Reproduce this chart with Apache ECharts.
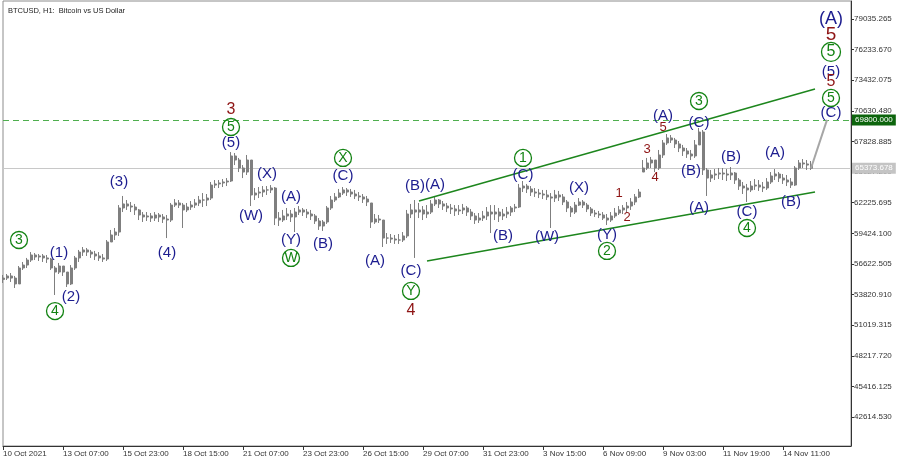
<!DOCTYPE html>
<html><head><meta charset="utf-8">
<script src="https://cdn.jsdelivr.net/npm/echarts@6/dist/echarts.min.js"></script>
<style>html,body{margin:0;padding:0;background:#fff}#c{width:900px;height:461px}</style>
</head><body><div id="c"></div>
<script>
// ---------- data ----------
const titleText = 'BTCUSD, H1:  Bitcoin vs US Dollar';
const tickLabels = ['10 Oct 2021','13 Oct 07:00','15 Oct 23:00','18 Oct 15:00','21 Oct 07:00','23 Oct 23:00','26 Oct 15:00','29 Oct 07:00','31 Oct 23:00','3 Nov 15:00','6 Nov 09:00','9 Nov 03:00','11 Nov 19:00','14 Nov 11:00'];
const yTickValues = [79035.265,76233.670,73432.075,70630.480,67828.885,65027.290,62225.695,59424.100,56622.505,53820.910,51019.315,48217.720,45416.125,42614.530];
const barsPerTick = 15;
const totalSlots = 213;
const firstOpen = 55200;
const closes = [
55330,55520,55330,54790,56250,56520,56980,57440,57260,57350,
57170,57070,56250,55880,56430,55880,54790,56250,57170,57710,
57900,57710,57530,57350,57170,57070,58630,59270,59540,61740,
62110,61920,61830,61560,61100,60920,61010,60820,61100,60920,
60730,60640,62010,62200,62010,61560,61830,62010,62200,62470,
62470,62650,63840,63940,64030,64120,64210,66500,66130,65400,
65030,66130,62930,63110,63200,63390,63390,63570,60820,60640,
61010,61190,60920,61370,61560,61370,61190,61010,60550,60090,
60460,61740,62470,62750,63110,63390,63200,63020,62840,62750,
62560,62290,60460,60730,60640,58990,58990,58900,58810,58810,
59180,61190,61560,61370,61560,61190,61370,62110,62470,62110,
61920,61740,61650,61470,61560,61740,61370,61010,60640,60820,
61010,61370,61190,61370,61010,61190,61370,61740,61830,63570,
63750,63480,63200,63110,63020,62930,62750,62650,62930,62750,
62290,61740,61370,62010,62290,62010,61650,61280,61190,61100,
60820,60640,61010,61280,61560,61740,61920,62290,62750,63200,
65400,65860,66130,65400,66590,67690,68150,67960,67600,67230,
66960,66680,66500,67510,68690,65220,64480,64760,64850,64940,
64850,64760,64940,64300,63750,63570,63390,63750,63840,63660,
63570,64120,64670,64850,64480,64300,64120,63840,65400,65860,
65770,65670,65374];
const highs = [
55610,55700,55790,55520,56430,56800,57170,57710,57620,57530,
57530,57440,57170,56430,56710,56430,55880,56520,57350,57900,
58170,58080,57900,57810,57710,57530,58810,59730,59910,62010,
62840,62470,62290,62110,61650,61370,61370,61280,61370,61280,
61190,61100,62200,62560,62470,62200,62200,62380,62560,62840,
63110,63020,64120,64300,64300,64390,64480,66860,66770,66320,
65670,66590,66130,63570,63660,63750,63750,63840,63660,61370,
61560,61740,61560,61740,61920,61740,61650,61560,61190,60820,
60640,61920,62840,63110,63480,63660,63570,63480,63390,63200,
63020,62840,62200,61190,61100,60640,59450,59360,59270,59360,
59540,61560,62110,62470,62200,61920,62010,62470,62840,62560,
62380,62200,62110,62010,62010,62110,61920,61650,61280,61280,
61470,61830,62010,62010,61740,61650,61830,61920,62110,63940,
64210,63940,63750,63570,63480,63390,63390,63110,63390,63300,
63020,62470,61920,62290,62650,62470,62200,61830,61560,61470,
61370,61190,61370,61740,61920,62010,62290,62650,63020,63480,
66130,66320,66410,66130,67050,67960,68510,68420,68150,67870,
67510,67230,67050,67960,69060,68880,65400,65220,65310,65400,
65400,65310,65490,65030,64480,64120,63940,64210,64390,64300,
64120,64480,65030,65310,65030,64850,64760,64480,65580,66130,
66220,66130,66040];
const lows = [
54880,55150,54970,54420,54790,56070,56250,56800,56980,56890,
56800,56710,56070,53780,55700,55520,54510,54690,56070,56800,
57350,57350,57170,56980,56890,56800,56890,58630,58810,59180,
61370,61560,61370,61100,60640,60460,60550,60460,60550,60460,
60370,58990,60460,61830,61740,59910,61370,61560,61740,61920,
61830,61920,62470,63570,63570,63660,63750,64120,65670,65030,
64480,64760,61920,62470,62650,62750,62930,63110,60180,60090,
60460,60640,60460,59540,61100,61010,60820,60640,60280,59730,
59640,60280,61560,62290,62650,62930,62840,62750,62560,62380,
62200,61920,59910,60280,60370,58170,58450,58540,58450,58450,
58630,58990,60820,57170,60820,60640,60820,61190,61920,61740,
61560,61370,61190,61010,61100,61190,61010,60640,60280,60370,
60550,60640,59450,60640,60460,60640,60820,61010,61370,61740,
63200,63110,62840,62750,62650,62560,62470,59910,62290,62380,
62010,61370,60920,61190,61920,61740,61370,61010,60920,60820,
60640,60180,60460,60820,61100,61190,61280,61560,62010,62650,
65030,65220,65400,65030,65220,66320,67510,67690,67230,66860,
66500,66320,66130,66320,67510,64760,62840,64120,64300,64390,
64300,64210,64300,63940,63390,63020,62290,63200,63390,63300,
63200,63390,63940,64300,64120,63940,63750,63570,63750,65220,
65400,65220,65220];
const currentPrice = 65373.678;
const targetLevel = 69800;
const projectionLine = [[202, 65373.678], [206, 69800]];
const upperChannel = [[104, 62380], [203, 72630]];
const lowerChannel = [[106, 56890], [203, 63200]];
const blueLabels = [[14,57620,'(1)'],[17,53600,'(2)'],[29,64120,'(3)'],[41,57620,'(4)'],[57,67690,'(5)'],[66,64850,'(X)'],[62,61010,'(W)'],[72,62750,'(A)'],[72,58810,'(Y)'],[80,58450,'(B)'],[85,64670,'(C)'],[93,56890,'(A)'],[103,63750,'(B)'],[108,63840,'(A)'],[102,55980,'(C)'],[130,64760,'(C)'],[125,59180,'(B)'],[136,59090,'(W)'],[144,63570,'(X)'],[151,59270,'(Y)'],[165,70160,'(A)'],[174,69520,'(C)'],[172,65130,'(B)'],[174,61740,'(A)'],[182,66410,'(B)'],[186,61370,'(C)'],[193,66770,'(A)'],[197,62290,'(B)'],[207,70430,'(C)'],[207,74190,'(5)']];
const blueBigLabels = [[207,79030,'(A)']];
const redLabels = [[57,70710,'3'],[102,52310,'4'],[207,73270,'5']];
const redSmallLabels = [[154,63110,'1'],[156,60920,'2'],[161,67140,'3'],[163,64580,'4'],[165,69150,'5']];
const redBigLabels = [[207,77570,'5']];
const greenCircles = [[4,58810,'3'],[13,52310,'4'],[57,69150,'5'],[72,57170,'W'],[85,66320,'X'],[102,54150,'Y'],[130,66320,'1'],[151,57810,'2'],[174,71530,'3'],[186,59910,'4'],[207,71810,'5']];
const greenBigCircles = [[207,76020,'5']];

// ---------- build ----------
const categories = [];
for (let i = 0; i < totalSlots; i++) {
  categories.push(i % barsPerTick === 0 && i / barsPerTick < tickLabels.length ? tickLabels[i / barsPerTick] : '_' + i);
}
const ohlc = closes.map((c, i) => {
  const prev = i === 0 ? firstOpen : closes[i - 1];
  const o = Math.min(highs[i], Math.max(lows[i], prev));
  return [o, c, lows[i], highs[i]];
});
const showTick = (idx) => idx % barsPerTick === 0 && idx / barsPerTick < tickLabels.length;
const FONT = 'Liberation Sans';
const BLUE = '#1c1c8f', RED = '#8e1414', GREEN = '#138313';
function textSeries(data, color, size) {
  return {type:'scatter', data, symbol:'circle', symbolSize:1, z:10, silent:true,
    itemStyle:{color:'rgba(0,0,0,0)', opacity:1},
    label:{show:true, position:'inside', formatter:p=>p.data[2], color, opacity:1, fontSize:size, fontFamily:FONT, textBorderWidth:0}};
}
function circleSeries(data, size, fsize) {
  return {type:'scatter', data, symbol:'circle', symbolSize:size, z:10, silent:true,
    itemStyle:{color:'rgba(255,255,255,0)', borderColor:GREEN, borderWidth:1.3, opacity:1},
    label:{show:true, position:'inside', formatter:p=>p.data[2], color:GREEN, opacity:1, fontSize:fsize, fontFamily:FONT, textBorderWidth:0}};
}
const chart = echarts.init(document.getElementById('c'), null, {renderer:'canvas'});
chart.setOption({
  animation:false,
  backgroundColor:'#ffffff',
  title:{text:titleText, left:3, top:2, textStyle:{fontSize:7.5, color:'#222', fontWeight:'normal', fontFamily:FONT}},
  grid:{left:2, right:49, top:1, bottom:15, show:true, borderColor:'#8c8c8c', borderWidth:1},
  xAxis:{type:'category', data:categories, boundaryGap:false,
    axisLine:{show:true, lineStyle:{color:'#333', width:1}},
    axisTick:{show:true, interval:showTick, length:4, lineStyle:{color:'#333'}},
    axisLabel:{interval:showTick, align:'left', margin:4, fontSize:8, color:'#333', fontFamily:FONT,
      formatter:v=>v.charAt(0)==='_' ? '' : v},
    splitLine:{show:false}},
  yAxis:{type:'value', position:'right', min:39961, max:80682,
    axisLine:{show:true, lineStyle:{color:'#333', width:1}},
    axisTick:{show:true, customValues:yTickValues, length:3, lineStyle:{color:'#333'}},
    axisLabel:{customValues:yTickValues, formatter:v=>Number(v).toFixed(3), margin:3, fontSize:8, color:'#333', fontFamily:FONT},
    splitLine:{show:false}},
  series:[
    {type:'candlestick', data:ohlc, barWidth:2.5, silent:true,
      itemStyle:{color:'#7f7f7f', color0:'#7f7f7f', borderColor:'#7f7f7f', borderColor0:'#7f7f7f', borderWidth:1},
      markLine:{silent:true, symbol:['none','none'], z:1,
        data:[
          {yAxis:currentPrice, lineStyle:{color:'#c8c8c8', type:'solid', width:1},
            label:{show:true, position:'end', distance:1, formatter:()=>currentPrice.toFixed(3), color:'#fff', backgroundColor:'#c4c4c4', padding:[2,3,1,3], fontSize:8, fontFamily:FONT}},
          {yAxis:targetLevel, lineStyle:{color:'#4fae4f', type:[6,4], width:1},
            label:{show:true, position:'end', distance:1, formatter:()=>targetLevel.toFixed(3), color:'#fff', backgroundColor:'#0d650d', padding:[2,3,1,3], fontSize:8, fontFamily:FONT}}
        ]}},
    {type:'line', data:projectionLine, symbol:'none', silent:true, lineStyle:{color:'#a6a6a6', width:2}},
    {type:'line', data:upperChannel, symbol:'none', silent:true, lineStyle:{color:'#1d861d', width:1.5}},
    {type:'line', data:lowerChannel, symbol:'none', silent:true, lineStyle:{color:'#1d861d', width:1.5}},
    textSeries(blueLabels, BLUE, 15),
    textSeries(blueBigLabels, BLUE, 18),
    textSeries(redLabels, RED, 16),
    textSeries(redSmallLabels, RED, 13),
    textSeries(redBigLabels, RED, 19),
    circleSeries(greenCircles, 17, 14),
    circleSeries(greenBigCircles, 19, 16)
  ]
});
</script></body></html>
